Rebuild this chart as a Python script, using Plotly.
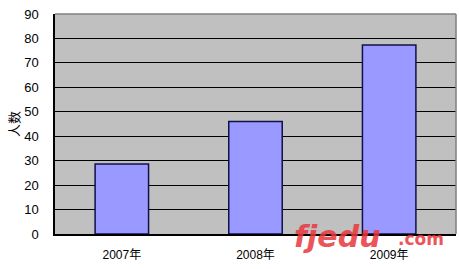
import plotly.graph_objects as go

categories = ["2007年", "2008年", "2009年"]
values = [28.6, 46, 77.3]
y_ticks = [0, 10, 20, 30, 40, 50, 60, 70, 80, 90]

FONT = "Liberation Sans, Arial, Noto Sans CJK SC, sans-serif"

fig = go.Figure()
fig.add_trace(go.Bar(
    x=categories, y=values,
    marker=dict(color="#9999FF", line=dict(color="#10104a", width=1.5)),
    width=0.4,
))

fig.update_layout(
    width=459, height=269,
    margin=dict(l=55, r=3, t=14, b=35),
    paper_bgcolor="white",
    plot_bgcolor="#C0C0C0",
    showlegend=False,
    font=dict(family=FONT, size=12, color="black"),
    xaxis=dict(
        showline=True, linecolor="black", linewidth=1.5,
        ticks="", ticklabelstandoff=9, showgrid=False,
        tickfont=dict(size=12),
    ),
    yaxis=dict(
        range=[0, 90], tickvals=y_ticks,
        showline=True, linecolor="black", linewidth=1.5,
        gridcolor="black", gridwidth=1.2,
        ticks="", ticklabelstandoff=12,
        tickfont=dict(size=13),
        title=dict(text="人数", font=dict(size=13), standoff=2),
        zeroline=False,
    ),
    shapes=[
        dict(type="line", xref="paper", yref="paper", x0=0, x1=1, y0=1, y1=1,
             line=dict(color="#808080", width=1.5)),
        dict(type="line", xref="paper", yref="paper", x0=1, x1=1, y0=0, y1=1,
             line=dict(color="#808080", width=1.5)),
    ],
    annotations=[
        dict(text="<b><i>fjedu</i></b>", xref="paper", yref="paper",
             x=0.59, y=-0.1, xanchor="left", yanchor="bottom",
             showarrow=False, opacity=0.85,
             font=dict(family="DejaVu Sans, sans-serif", size=30, color="#e8383d")),
        dict(text="<b>.com</b>", xref="paper", yref="paper",
             x=0.975, y=-0.075, xanchor="right", yanchor="bottom",
             showarrow=False, opacity=0.85,
             font=dict(family="DejaVu Sans, sans-serif", size=17, color="#e8383d")),
    ],
)

fig.write_html("out.html")
